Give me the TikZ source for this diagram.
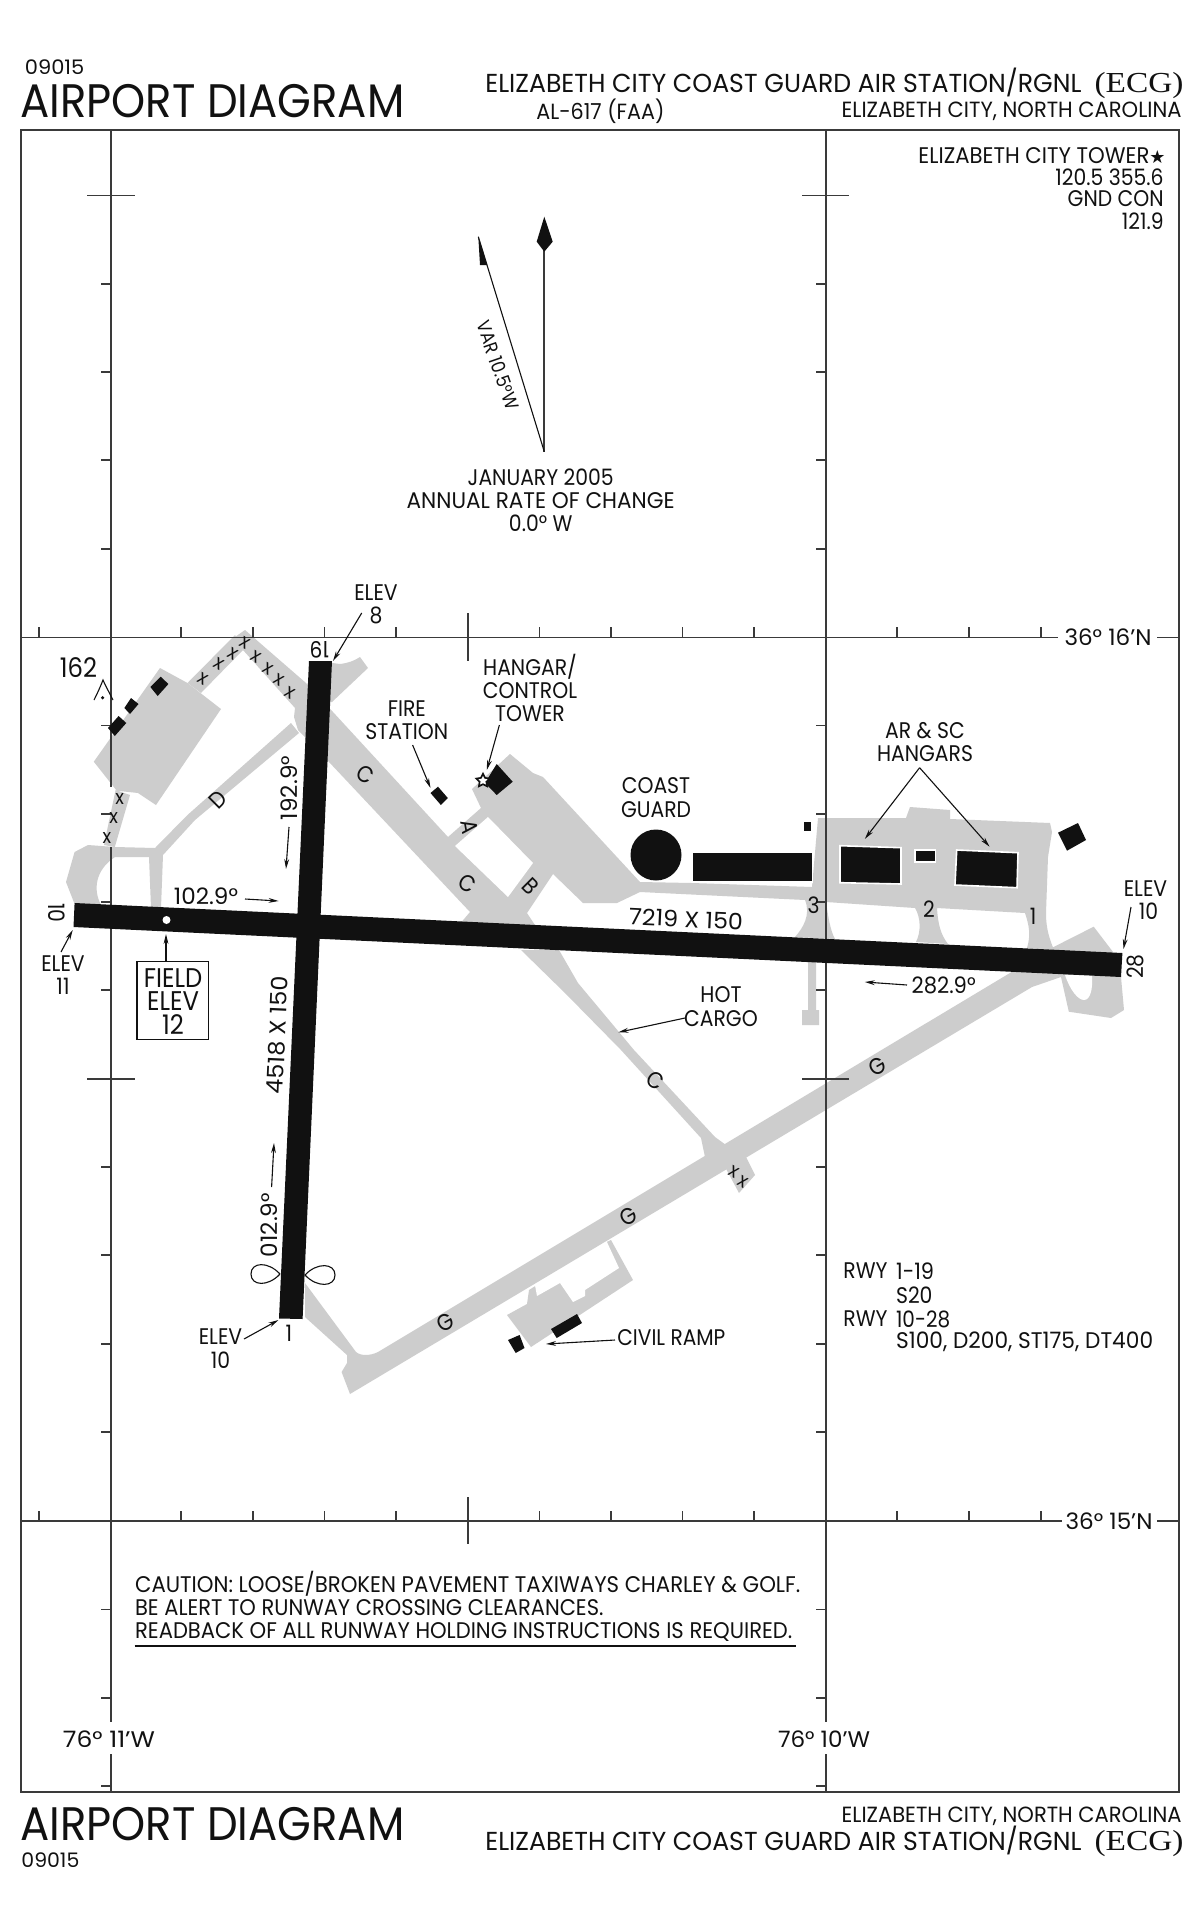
\documentclass[tikz,border=0pt]{standalone}
\usepackage{fontspec}
\usepackage{graphicx}
\usetikzlibrary{arrows.meta,shapes.geometric}
\setmainfont{Poppins}[FakeStretch=0.9]
\newfontfamily\djv{DejaVu Sans}
\newfontfamily\ecgf{Liberation Serif}
\newcommand\fsz[2]{\fontsize{#1}{#2}\selectfont}
\newcommand\fw[2]{\resizebox{#1pt}{\height}{#2}}
\definecolor{ink}{HTML}{111111}
\definecolor{taxi}{HTML}{CDCDCD}
\definecolor{rule}{HTML}{3A3A3A}
\tikzset{
  lab/.style={inner sep=0pt,align=center,text=ink,font=\fsz{11.3}{11.6}},
  big/.style={inner sep=0pt,align=center,text=ink,font=\fsz{13.5}{11.8}},
  tit/.style={inner sep=0pt,text=ink,font=\fsz{23.5}{24}},
  hd/.style={inner sep=0pt,text=ink,font=\fsz{13}{14}},
  sub/.style={inner sep=0pt,text=ink,font=\fsz{11}{12}},
  let/.style={inner sep=0pt,text=ink,font=\fsz{11.5}{12}},
  xm/.style={inner sep=0pt,text=ink,font=\fsz{10}{10}},
  tw/.style={fill=taxi},
  bk/.style={fill=ink},
  gridl/.style={draw=rule,line width=0.65pt},
  tick/.style={draw=rule,line width=0.6pt},
  lead/.style={draw=ink,line width=0.55pt,-{Stealth[length=5pt,width=2.4pt]}},
}
\begin{document}
\begin{tikzpicture}[x=0.5pt,y=-0.5pt]
\useasboundingbox (0,0) rectangle (1200,1922);
\fill[white] (0,0) rectangle (1200,1922);

% ---------- pavement
% civil ramp
\fill[tw] (611,1240)--(633,1280)--(531,1347)--(507,1315)--(527,1304)--(529,1290)--(600,1245)--cycle;
\fill[white] (606,1240)--(619,1268)--(585,1290)--(585,1296)--(573,1302)--(560,1283)--(537,1296)--(534,1280)--cycle;
% C lower
\fill[tw] (521,950)--(559,950)--(578,983)--(634,1050)--(715,1137)--(726,1145)--(705,1157)--(701,1138)--(621,1050)--(566,994)--cycle;
% stub with crosses
\fill[tw] (724,1165)--(745,1155)--(755,1175)--(739,1193)--cycle;
% G
\fill[tw] (350,1394)--(341.6,1372)--(347,1363)--(347,1355)--(305,1317)--(305,1283)--(355.8,1351.7)
  ..controls (360,1356) and (370,1356) .. (378,1352)
  --(1051.6,948)--(1093.7,926.7)--(1112.8,951.7)--(1121,977)--(1124,1010)--(1111,1018)--(1068.8,1011.7)--(1061,977)--(1032,987)--cycle;
\fill[white] (1065,975)..controls (1070,990) and (1078,1000) .. (1084,1000)..controls (1090,1000) and (1093,990) .. (1092,975)--cycle;
% C upper, A, B, main apron, hangar ramp and connectors
\fill[tw] (245,630)--(306,683)--(333,712)--(448,837)--(481,808)--(472,789)--(510,754)--(533,773)--(543,777)--(640,882)--(692,883)--(812,887)--(818,818)--(906,818)--(910,807)--(950,810)--(950,819)--(1050,823)--(1052,832)--(1048,857)--(1046,913)
  ..controls (1046,930) and (1050,940) .. (1054,950)--(1027,948)
  ..controls (1031,935) and (1029,925) .. (1025,913)--(937,908)
  ..controls (938,925) and (941,935) .. (948,944)--(916,942)
  ..controls (921,932) and (921,918) .. (915,908)--(826,902)
  ..controls (828,915) and (830,930) .. (835,939)--(795,937)
  ..controls (803,928) and (811,915) .. (805,900)--(640,892)--(617,903)--(583,903)--(553,874)--(527,913)--(535,925)--(459,925)--(470,912)--(329,762)--(298,730)--(294,717)--(295,708)--(243,650)--(235,637)--cycle;
\fill[white] (455,846)--(488,817)--(533,863)--(508,897)--cycle;
% NE stub
\fill[tw] (325,662)--(340,664)..controls (348,663) and (354,661) .. (360,657)--(368,668)--(332,702)--(325,702)--cycle;
% NW band to apron
\fill[tw] (235,635)--(187.5,683)--(201,693)--(243,650)--cycle;
% NW apron
\fill[tw] (160,668)--(187.5,683)--(221,709)--(156,805)--(138,793)--(116.7,790.7)--(93.8,761.7)--cycle;
% crossed taxiway at the left
\fill[tw] (115.6,790)--(130,795)--(114.8,847)--(104,845)--cycle;
% D and the loop
\fill[tw] (291,723)--(187.5,815)--(155,848)--(115,847)--(88,845)--(74.6,852)--(66,882)--(75,905)--(101,905)
  ..controls (93,890) and (95,870) .. (115,857)--(149,857)--(151,908)--(161,908)--(163,855)--(195,820)--(299,733)--cycle;
% stem of 3 below the runway
\fill[tw] (808,960)--(816,960)--(816,1010)--(819,1010)--(819,1025)--(802,1025)--(802,1010)--(808,1010)--cycle;

% ---------- graticule
\draw[gridl] (21,637.3)--(1058,637.3) (1157,637.3)--(1179,637.3);
\draw[gridl] (21,1521)--(1062,1521) (1157,1521)--(1179,1521);
\draw[gridl] (111,130)--(111,787) (111,847)--(111,1722) (111,1754)--(111,1792);
\draw[gridl] (826,130)--(826,1722) (826,1754)--(826,1792);
\foreach \x in {39,181,253,324.5,396,539.5,611,682.6,754,897,969,1041}{
  \draw[tick] (\x,627.3)--(\x,637.3);
  \draw[tick] (\x,1511)--(\x,1521);
}
\draw[tick] (468,613)--(468,661);
\draw[tick] (468,1497)--(468,1544);
\foreach \y in {284,372,460,549,725.7,814,902,990,1167,1255,1344,1432,1609.5,1698,1786}{
  \draw[tick] (101,\y)--(111,\y);
  \draw[tick] (816,\y)--(826,\y);
}
\foreach \y in {195.5,1079}{
  \draw[tick] (87,\y)--(135,\y);
  \draw[tick] (802,\y)--(849,\y);
}
\node[lab] (lat16) at (1108,637.3) {\fw{43.5}{36° 16'N}};
\node[lab] (lat15) at (1109,1521) {\fw{43.5}{36° 15'N}};
\node[lab] (lon11) at (109,1739) {\fw{46}{76° 11'W}};
\node[lab] (lon10) at (824,1739) {\fw{46}{76° 10'W}};
% frame
\draw[draw=rule,line width=0.8pt] (21,130) rectangle (1179,1792);
\draw[draw=rule,line width=1.1pt] (21,130)--(1179,130) (21,1792)--(1179,1792);

% ---------- runways
\fill[bk] (74.6,903)--(1122.4,953)--(1121,977)--(73.5,927)--cycle;
\fill[bk] (309,661)--(332,661)--(302.6,1319)--(279,1318.5)--cycle;
\fill[white] (166.5,920) circle (4);

% ---------- buildings
\fill[bk] (160.7,676.7)--(168.4,684)--(157.7,696)--(150.4,687)--cycle;
\fill[bk] (131,698)--(138.5,704)--(130,714)--(124.4,708)--cycle;
\fill[bk] (118.6,716)--(126.3,723)--(114.8,736)--(108,728)--cycle;
\fill[bk] (438,786.7)--(447.8,798)--(440.9,805)--(430.5,793)--cycle;
\fill[bk] (496.7,764)--(512.7,781.7)--(496.7,795)--(485,783)--cycle;
\node[star,star points=5,star point ratio=2,draw=ink,fill=white,line width=0.8pt,minimum size=7pt,inner sep=0pt] (twr) at (483,780.7) {};
\fill[bk] (656,855) circle (25.5);
\fill[bk,draw=white,line width=0.8pt] (692.6,851.7) rectangle (812.4,881.7);
\fill[bk] (804,821.7) rectangle (810.5,830.7);
\fill[bk,draw=white,line width=0.8pt] (840,845.7)--(901,847.7)--(901,884)--(840,882.7)--cycle;
\fill[bk,draw=white,line width=0.8pt] (915,850) rectangle (935.6,861.7);
\fill[bk,draw=white,line width=0.8pt] (956.7,850)--(1018,852.7)--(1017,887.7)--(955,885)--cycle;
\fill[bk] (1078,823)--(1086,840)--(1067,850.7)--(1058,832.7)--cycle;
\fill[bk] (508,1340)--(519.6,1335)--(524.5,1348)--(515.7,1353)--cycle;
\fill[bk] (577,1314)--(582,1323)--(556.7,1338)--(551,1329)--cycle;

% ---------- closed-taxiway crosses
\foreach \n/\p in {a/{245,643},b/{233,654},c/{219,664},d/{203,679},e/{256,657},f/{268,669},g/{279,680},h/{290,693}}{
  \node[xm,rotate=-30] (x\n) at (\p) {x};
}
\foreach \n/\p in {i/{119.8,799},j/{113.7,818},k/{107,838}}{
  \node[xm] (x\n) at (\p) {x};
}
\foreach \n/\p in {l/{734,1172},m/{743,1182}}{
  \node[xm,rotate=-30] (x\n) at (\p) {x};
}

% ---------- taxiway letters
\node[let,rotate=-30] (tc1) at (365.5,775) {C};
\node[let,rotate=45] (td) at (218,800) {D};
\node[let,rotate=-80] (ta) at (470,827) {A};
\node[let,rotate=-30] (tc2) at (467.7,884) {C};
\node[let,rotate=-45] (tb) at (530.8,886) {B};
\node[let,rotate=-30] (tc3) at (655.5,1081) {C};
\node[let,rotate=30] (tg1) at (877.5,1066.7) {G};
\node[let,rotate=30] (tg2) at (628,1216) {G};
\node[let,rotate=30] (tg3) at (445,1322.7) {G};

% ---------- runway texts
\node[lab,rotate=180] (r19) at (319.5,650) {19};
\node[lab,rotate=-90] (r10) at (56.6,913) {10};
\node[lab,rotate=90] (r28) at (1135,966.7) {28};
\node[lab] (r1) at (289,1333) {1};
\node[lab] (n3) at (813.5,905) {3};
\node[lab] (n2) at (929,909) {2};
\node[lab] (n1) at (1033,916.7) {1};
\node[lab,rotate=-2.7] (dim1) at (686,919) {\fw{57}{7219 X 150}};
\node[lab,rotate=87.4] (dim2) at (277.5,1035) {\fw{59}{4518 X 150}};
\node[lab] (h102) at (206,896) {\fw{32}{102.9°}};
\node[lab,rotate=90] (h192) at (289,788) {\fw{32}{192.9°}};
\node[lab,rotate=90] (h012) at (269,1225) {\fw{32}{012.9°}};
\node[lab] (h282) at (943.7,985) {\fw{32}{282.9°}};
\coordinate (h102a) at (245,899); \coordinate (h102b) at (278.6,901);
\coordinate (h192a) at (289,827); \coordinate (h192b) at (286,869);
\coordinate (h012a) at (271.6,1187); \coordinate (h012b) at (274,1143);
\coordinate (h282a) at (907,985); \coordinate (h282b) at (864.8,982);
\draw[lead] (h102a)--(h102b);
\draw[lead] (h192a)--(h192b);
\draw[lead] (h012a)--(h012b);
\draw[lead] (h282a)--(h282b);

% lighting petals
\draw[draw=ink,line width=0.55pt] (280,1274)..controls (268,1261) and (251,1262) .. (251,1274)..controls (251,1286) and (268,1287) .. (280,1274);
\draw[draw=ink,line width=0.55pt] (305,1275)..controls (317,1262) and (335,1263) .. (335,1275)..controls (335,1287) and (317,1288) .. (305,1275);

% ---------- elevations and notes
\node[lab] (e8) at (376,604.5) {ELEV\\8};
\coordinate (e8a) at (361.7,613); \coordinate (e8b) at (333,661);
\draw[lead] (e8a)--(e8b);
\node[lab] (e11) at (63,975.5) {ELEV\\11};
\coordinate (e11a) at (61,952); \coordinate (e11b) at (72.7,930);
\draw[lead] (e11a)--(e11b);
\node[lab] (e10a) at (220.5,1348.5) {ELEV\\10};
\coordinate (e10s) at (244,1339); \coordinate (e10t) at (278.5,1320);
\draw[lead] (e10s)--(e10t);
\node[lab] (e10b) at (1145.5,900.5) {ELEV\\\hspace*{3pt}10};
\coordinate (e10u) at (1131,907); \coordinate (e10v) at (1123.5,949);
\draw[lead] (e10u)--(e10v);
\node[draw=ink,line width=0.55pt,minimum width=35.8pt,minimum height=39pt,inner sep=0pt] (fbox) at (172.8,1000.8) {};
\node[big] (ftxt) at (173,1001.5) {FIELD\\ELEV\\12};
\coordinate (fdot) at (166,934);
\draw[lead] (fbox.north west -| 166,961.7)--(fdot);
\node[big] (o162) at (78.5,668) {162};
\draw[draw=ink,line width=0.55pt] (94,700)..controls (99,690) and (101,685) .. (103,680)..controls (105,685) and (108,690) .. (113,700);
\fill[ink] (102.6,697.7) circle (1.8);
\node[lab] (fire) at (406.8,720) {FIRE\\STATION};
\coordinate (firea) at (412.6,745); \coordinate (fireb) at (430.5,788);
\draw[lead] (firea)--(fireb);
\node[lab] (hang) at (530,688) {HANGAR/\\CONTROL\\TOWER};
\coordinate (hanga) at (499.4,725); \coordinate (hangb) at (486.8,770);
\draw[lead] (hanga)--(hangb);
\node[lab] (cg) at (656,797.5) {COAST\\GUARD};
\node[lab] (arsc) at (925,742) {AR \& SC\\HANGARS};
\coordinate (arsca) at (919.6,767.7); \coordinate (arscb) at (864.8,839); \coordinate (arscc) at (989.6,846.7);
\draw[lead] (arsca)--(arscb);
\draw[lead] (arsca)--(arscc);
\node[lab] (hot) at (721,1006.5) {HOT\\CARGO};
\coordinate (hota) at (685,1018); \coordinate (hotb) at (618.4,1032.3);
\draw[lead] (hota)--(hotb);
\node[lab,anchor=west] (civ) at (617,1338) {\fw{54}{CIVIL RAMP}};
\coordinate (civa) at (615,1340); \coordinate (civb) at (546,1344);
\draw[lead] (civa)--(civb);

% ---------- weight bearing
\node[lab,anchor=west] (w1a) at (843,1271) {RWY};
\node[lab,anchor=west] (w1b) at (895.7,1271) {\fw{19}{1-19}};
\node[lab,anchor=west] (w2) at (895.7,1295) {S20};
\node[lab,anchor=west] (w3a) at (843,1319) {RWY};
\node[lab,anchor=west] (w3b) at (895.7,1319) {\fw{27}{10-28}};
\node[lab,anchor=west] (w4) at (895.7,1342) {\fw{128.5}{S100, D200, ST175, DT400}};

% ---------- compass
\coordinate (cmpo) at (544.3,451.7); \coordinate (cmpn) at (544.3,250); \coordinate (cmpv) at (478.3,236.7);
\draw[draw=rule,line width=0.9pt] (cmpo)--(cmpn);
\fill[ink] (544.3,216.7)--(552.7,241.7)--(544.3,251.7)--(536.7,241.7)--cycle;
\draw[draw=ink,line width=0.55pt] (cmpo)--(cmpv);
\fill[ink] (478.3,236.7)--(487.3,265)--(480,265)--cycle;
\node[lab,rotate=-71,font=\fsz{9.5}{11}] (var) at (498,365) {VAR 10.5°W};
\node[lab] (jan) at (540.7,500) {JANUARY 2005\\\fw{134}{ANNUAL RATE OF CHANGE}\\0.0° W};

% ---------- tower box
\node[lab,anchor=east] (tw1) at (1166,156) {\fw{115.5}{ELIZABETH CITY TOWER}{\djv\fsz{9}{9}★}};
\node[lab,anchor=east] (tw2) at (1164,177) {120.5 355.6};
\node[lab,anchor=east] (tw3) at (1164,199) {GND CON};
\node[lab,anchor=east] (tw4) at (1164,221) {121.9};

% ---------- caution
\node[lab,anchor=west] (ca1) at (134.7,1584) {\fw{332.6}{CAUTION: LOOSE/BROKEN PAVEMENT TAXIWAYS CHARLEY \& GOLF.}};
\node[lab,anchor=west] (ca2) at (134.7,1608) {\fw{234.2}{BE ALERT TO RUNWAY CROSSING CLEARANCES.}};
\node[lab,anchor=west] (ca3) at (134.7,1632) {\fw{328.6}{READBACK OF ALL RUNWAY HOLDING INSTRUCTIONS IS REQUIRED.}};
\draw[draw=ink,line width=1pt] (134.7,1645.7)--(796,1645.7);

% ---------- titles
\node[lab,anchor=west,font=\fsz{10}{11}] (no1) at (24.5,67.5) {\fw{29.7}{09015}};
\node[tit,anchor=base west] (at1) at (20,117) {\fw{192}{AIRPORT DIAGRAM}};
\node[hd,anchor=base west] (ap1) at (485,92) {\fw{298}{ELIZABETH CITY COAST GUARD AIR STATION/RGNL}};
\node[hd,anchor=base east] (ec1) at (1184,92) {\fw{44.5}{\ecgf\fsz{14.5}{15}(ECG)}};
\node[sub,anchor=base west] (al) at (536,119) {\fw{64}{AL-617 (FAA)}};
\node[sub,anchor=base east] (ci1) at (1182,117) {\fw{170}{ELIZABETH CITY, NORTH CAROLINA}};
\node[tit,anchor=base west] (at2) at (20,1840) {\fw{192}{AIRPORT DIAGRAM}};
\node[sub,anchor=base east] (ci2) at (1182,1822) {\fw{170}{ELIZABETH CITY, NORTH CAROLINA}};
\node[hd,anchor=base west] (ap2) at (485,1850) {\fw{298}{ELIZABETH CITY COAST GUARD AIR STATION/RGNL}};
\node[hd,anchor=base east] (ec2) at (1184,1850) {\fw{44.5}{\ecgf\fsz{14.5}{15}(ECG)}};
\node[lab,anchor=west,font=\fsz{10}{11}] (no2) at (21,1860) {\fw{29}{09015}};
\end{tikzpicture}
\end{document}
